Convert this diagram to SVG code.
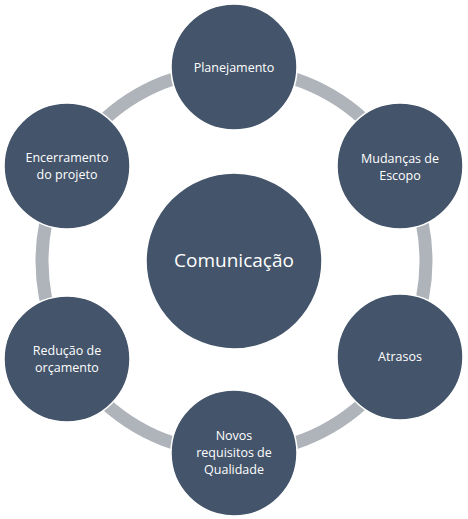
<svg xmlns="http://www.w3.org/2000/svg" width="468" height="519" viewBox="0 0 468 519">
<style>
.ring{fill:none;stroke:#AFB3BA;stroke-width:13}
.n{fill:#44546A;stroke:#FFFFFF;stroke-width:1.5}
.t{font-family:"Open Sans","Noto Sans",sans-serif;font-size:12.5px;fill:#FFFFFF;text-anchor:middle}
.c{font-family:"Open Sans","Noto Sans",sans-serif;font-size:19px;fill:#FFFFFF;text-anchor:middle}
</style>
<rect width="468" height="519" fill="#FFFFFF"/>
<g id="connectors">
<circle class="ring" cx="234" cy="261" r="192"/>
</g>
<g id="comunicacao">
<circle class="n" cx="234" cy="261" r="88"/>
<text class="c" x="234" y="267">Comunicação</text>
</g>
<g id="planejamento">
<circle class="n" cx="234" cy="67" r="63"/>
<text class="t" x="234" y="72">Planejamento</text>
</g>
<g id="mudancas">
<circle class="n" cx="400" cy="166" r="63"/>
<text class="t" x="400" y="163">Mudanças de</text>
<text class="t" x="400" y="180">Escopo</text>
</g>
<g id="atrasos">
<circle class="n" cx="400" cy="357" r="63"/>
<text class="t" x="400" y="361">Atrasos</text>
</g>
<g id="novos">
<circle class="n" cx="234" cy="453" r="63"/>
<text class="t" x="234" y="440">Novos</text>
<text class="t" x="234" y="457">requisitos de</text>
<text class="t" x="234" y="474">Qualidade</text>
</g>
<g id="reducao">
<circle class="n" cx="67" cy="359" r="63"/>
<text class="t" x="67" y="355">Redução de</text>
<text class="t" x="67" y="372">orçamento</text>
</g>
<g id="encerramento">
<circle class="n" cx="67" cy="166" r="63"/>
<text class="t" x="67" y="162">Encerramento</text>
<text class="t" x="67" y="179">do projeto</text>
</g>
</svg>
